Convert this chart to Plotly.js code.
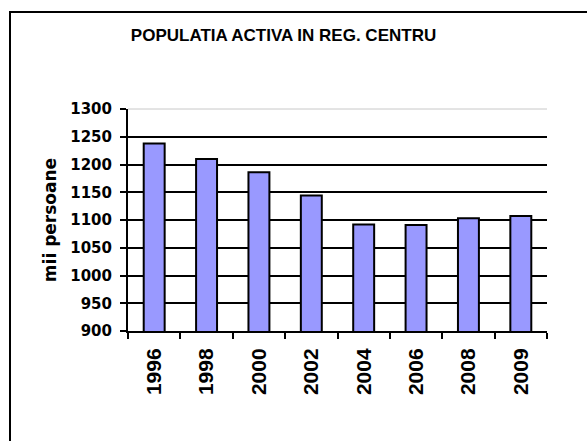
<!DOCTYPE html>
<html>
<head>
<meta charset="utf-8">
<script src="https://cdn.plot.ly/plotly-3.0.1.min.js"></script>
<style>
    html, body { margin: 0; padding: 0; overflow: hidden; background: #fff; }
    #chart { width: 587px; height: 441px; }
    #frame {
        position: absolute; left: 9px; top: 11px;
        width: 640px; height: 520px;
        border: 2px solid #000;
        box-shadow: 1px 1px 0 #999;
        pointer-events: none;
    }
</style>
</head>
<body>
<div id="chart"></div>
<div id="frame"></div>
<script>
/* global Plotly */

const years = ['1996', '1998', '2000', '2002', '2004', '2006', '2008', '2009'];
const activePop = [1238, 1210, 1186, 1144, 1092, 1091, 1103, 1107];
const yTicks = [900, 950, 1000, 1050, 1100, 1150, 1200, 1250, 1300];
const innerGrid = [950, 1000, 1050, 1100, 1150, 1200, 1250];

const ARIAL = 'Arial, "Liberation Sans", sans-serif';
const WIDE = '"DejaVu Sans", Arial, sans-serif';

function buildTrace() {
    return {
        type: 'bar',
        x: years,
        y: activePop,
        marker: {
            color: '#9999FF',
            line: { color: '#000', width: 2 }
        },
        hoverinfo: 'skip',
        showlegend: false
    };
}

function buildLayout() {
    return {
        width: 587,
        height: 441,
        margin: { l: 128, r: 40, t: 109, b: 110 },
        paper_bgcolor: '#fff',
        plot_bgcolor: '#fff',
        bargap: 0.6,
        title: {
            text: 'POPULATIA ACTIVA IN REG. CENTRU',
            font: { family: ARIAL, size: 17, color: '#000', weight: 'bold' },
            xref: 'container',
            x: 0.483,
            xanchor: 'center',
            yref: 'container',
            y: 1 - 35 / 441,
            yanchor: 'middle'
        },
        xaxis: {
            type: 'category',
            tickangle: -90,
            tickson: 'boundaries',
            ticks: 'outside',
            ticklen: 6,
            tickwidth: 2,
            tickcolor: '#000',
            ticklabelstandoff: 7,
            showline: true,
            linecolor: '#000',
            linewidth: 2,
            showgrid: false,
            tickfont: { family: ARIAL, size: 21, color: '#000', weight: 'bold' },
            fixedrange: true
        },
        yaxis: {
            range: [900, 1300],
            tickvals: yTicks,
            ticks: 'outside',
            ticklen: 6,
            tickwidth: 2,
            tickcolor: '#000',
            ticklabelstandoff: 5,
            showline: true,
            linecolor: '#000',
            linewidth: 2,
            showgrid: false,
            // black inner gridlines come from the minor grid
            minor: {
                tickvals: innerGrid,
                ticks: '',
                showgrid: true,
                gridcolor: '#000',
                gridwidth: 2
            },
            zeroline: false,
            tickfont: { family: WIDE, size: 15, color: '#000', weight: 'bold' },
            title: {
                text: 'mii persoane',
                font: { family: WIDE, size: 17, color: '#000', weight: 'bold' },
                standoff: 9
            },
            fixedrange: true
        },
        // light grey line along the top of the plot area
        shapes: [{
            type: 'line',
            layer: 'between',
            xref: 'paper', x0: 0, x1: 1,
            yref: 'paper', y0: 1, y1: 1,
            line: { color: '#c8c8c8', width: 1 }
        }]
    };
}

Plotly.newPlot('chart', [buildTrace()], buildLayout(), {
    displaylogo: false,
    displayModeBar: false,
    staticPlot: true
});
</script>
</body>
</html>
